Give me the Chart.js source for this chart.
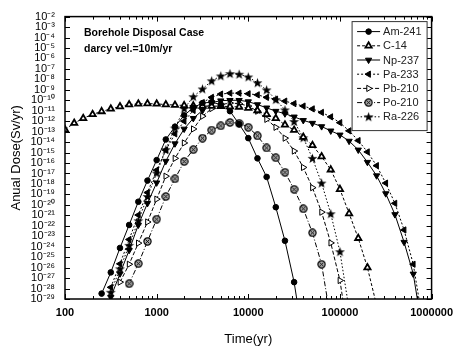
<!DOCTYPE html>
<html>
<head>
<meta charset="utf-8">
<script src="https://cdn.jsdelivr.net/npm/chart.js@4.4.0/dist/chart.umd.min.js"></script>
<style>
  html, body { margin: 0; padding: 0; background: #fff; }
  #wrap { width: 460px; height: 347px; }
</style>
</head>
<body>
<div id="wrap"><canvas id="c"></canvas></div>
<script>
// Tiempos (yr), 10 puntos por decada
const TIME = [100, 126, 158, 200, 251, 316, 398, 501, 631, 794,
  1000, 1259, 1585, 1995, 2512, 3162, 3981, 5012, 6310, 7943,
  10000, 12589, 15849, 19953, 25119, 31623, 39811, 50119, 63096, 79433,
  100000, 125893, 158489, 199526, 251189, 316228, 398107, 501187, 630957, 794328, 1000000];

// Dosis anual (Sv/yr), alineada con TIME
const AM_241 = [null, null, null, null, 3.3e-29, 3.5e-27, 7.6e-25, 1.2e-22, 2.0e-20, 2.1e-18,
  1.9e-16, 1.8e-14, 3.0e-13, 3.6e-12, 2.0e-11, 5.4e-11, 6.6e-11, 3.9e-11, 9.1e-12, 5.2e-13,
  2.4e-14, 2.8e-16, 4.7e-18, 6.0e-21, 3.7e-24, 4.1e-28, 1e-33];
const C_14 = [1.6e-13, 6.5e-13, 1.9e-12, 4.5e-12, 8.5e-12, 1.5e-11, 2.5e-11, 3.9e-11, 4.5e-11, 4.8e-11,
  4.5e-11, 3.9e-11, 3.5e-11, 3.2e-11, 3.0e-11, 2.8e-11, 2.8e-11, 2.7e-11, 2.5e-11, 2.3e-11,
  1.8e-11, 1.07e-11, 4.5e-12, 1.9e-12, 4.5e-13, 1.4e-13, 3.0e-14, 4.9e-15, 4.1e-16, 2.3e-17,
  3.1e-19, 1.5e-21, 6.5e-24, 1.0e-26, 2.5e-30];
const NP_237 = [null, null, null, null, null, 1.5e-29, 2.6e-27, 4.6e-25, 1.2e-22, 1.4e-20,
  1.3e-18, 1.5e-16, 7.1e-15, 1.8e-13, 1.9e-12, 1.07e-11, 6.0e-11, 9.1e-11, 1.0e-10, 1.0e-10,
  7.4e-11, 3.9e-11, 1.9e-11, 9.1e-12, 5.2e-12, 2.6e-12, 1.2e-12, 6.5e-13, 3.1e-13, 1.2e-13,
  4.9e-14, 1.26e-14, 1.8e-15, 1.2e-16, 6.2e-18, 1.2e-19, 1.2e-21, 2.7e-24, 2.5e-27, 1e-32];
const PA_233 = [null, null, null, null, null, 1.3e-28, 2.3e-26, 4.9e-24, 1.07e-21, 1.5e-19,
  2.1e-17, 1.7e-15, 6.2e-14, 1.0e-12, 1.07e-11, 6.0e-11, 1.9e-10, 3.9e-10, 4.8e-10, 4.8e-10,
  4.2e-10, 3.3e-10, 1.9e-10, 1.26e-10, 8.3e-11, 4.8e-11, 2.8e-11, 1.5e-11, 6.9e-12, 2.6e-12,
  7.2e-13, 1.2e-13, 1.4e-14, 1.15e-15, 5.6e-17, 1.2e-18, 1.4e-20, 4.0e-23, 2.1e-26, 1e-31];
const PB_210 = [null, null, null, null, null, null, 4.1e-28, 2.1e-26, 2.2e-24, 2.3e-22,
  3.5e-20, 5.5e-18, 2.8e-16, 8.3e-15, 1.8e-13, 3.0e-12, 1.6e-11, 3.9e-11, 5.4e-11, 4.8e-11,
  2.8e-11, 9.1e-12, 1.5e-12, 2.6e-13, 2.4e-14, 1.4e-15, 3.8e-17, 4.4e-19, 2.0e-21, 2.3e-24,
  5.9e-28, 1e-33];
const PO_210 = [null, null, null, null, null, null, null, 2.9e-28, 2.4e-26, 3.2e-24,
  4.3e-22, 6.3e-20, 3.1e-18, 1.4e-16, 1.9e-15, 2.4e-14, 1.4e-13, 3.6e-13, 7.6e-13, 6.2e-13,
  2.6e-13, 4.0e-14, 2.8e-15, 3.2e-16, 1.3e-17, 3.1e-19, 4.2e-21, 2.1e-23, 2.1e-26, 1e-31];
const RA_226 = [null, null, null, null, null, 4.4e-29, 7.8e-27, 1.35e-24, 3.0e-22, 6.3e-20,
  1.1e-17, 1.9e-15, 2.2e-13, 1.6e-11, 2.2e-10, 1.2e-9, 7.2e-9, 2.1e-8, 3.5e-8, 3.1e-8,
  1.7e-8, 4.7e-9, 9.8e-10, 1.15e-10, 1.2e-11, 9.3e-13, 2.6e-14, 2.8e-16, 1.2e-18, 1.4e-21,
  3.3e-25, 1e-30];

// Ticks
const X_TICKS = [100, 200, 300, 400, 500, 600, 700, 800, 900,
  1000, 2000, 3000, 4000, 5000, 6000, 7000, 8000, 9000,
  10000, 20000, 30000, 40000, 50000, 60000, 70000, 80000, 90000,
  100000, 200000, 300000, 400000, 500000, 600000, 700000, 800000, 900000, 1000000];
const Y_EXP = [-2, -3, -4, -5, -6, -7, -8, -9, -10, -11, -12, -13, -14, -15, -16,
  -17, -18, -19, -20, -21, -22, -23, -24, -25, -26, -27, -28, -29];

const FONT = '"Liberation Sans", Arial, sans-serif';
Chart.defaults.font.family = FONT;
Chart.defaults.color = "#000";

const SUP = { "-": "\u207B", "0": "\u2070", "1": "\u00B9", "2": "\u00B2", "3": "\u00B3", "4": "\u2074",
  "5": "\u2075", "6": "\u2076", "7": "\u2077", "8": "\u2078", "9": "\u2079" };
const pow10Label = (e) => "10" + String(e).split("").map((c) => SUP[c]).join("");
const isPow10 = (v) => Math.abs(Math.log10(v) - Math.round(Math.log10(v))) < 1e-9;

// marcadores que Chart.js no trae
function starMark() {
  const c = document.createElement("canvas");
  c.width = c.height = 11;
  const g = c.getContext("2d");
  g.fillStyle = "#000";
  g.beginPath();
  for (let i = 0; i < 10; i++) {
    const r = i % 2 ? 2.1 : 5.2;
    const a = -Math.PI / 2 + i * Math.PI / 5;
    g.lineTo(5.5 + r * Math.cos(a), 5.9 + r * Math.sin(a));
  }
  g.closePath();
  g.fill();
  return c;
}
function otimesMark() {
  const c = document.createElement("canvas");
  c.width = c.height = 9;
  const g = c.getContext("2d");
  g.fillStyle = "#aaa";
  g.strokeStyle = "#000";
  g.lineWidth = 1.2;
  g.beginPath();
  g.arc(4.5, 4.5, 3.6, 0, Math.PI * 2);
  g.fill();
  g.stroke();
  g.lineWidth = 0.9;
  g.beginPath();
  g.moveTo(2.6, 2.6); g.lineTo(6.4, 6.4);
  g.moveTo(6.4, 2.6); g.lineTo(2.6, 6.4);
  g.stroke();
  return c;
}

const SERIES = [
  { label: "Am-241", values: AM_241, style: "circle", rot: 0, r: 2.8, bg: "#000", bw: 1, dash: [] },
  { label: "C-14", values: C_14, style: "triangle", rot: 0, r: 3.6, bg: "#fff", bw: 1.8, dash: [3, 2] },
  { label: "Np-237", values: NP_237, style: "triangle", rot: 180, r: 3.6, bg: "#000", bw: 1, dash: [] },
  { label: "Pa-233", values: PA_233, style: "triangle", rot: 270, r: 3.6, bg: "#000", bw: 1, dash: [2, 2] },
  { label: "Pb-210", values: PB_210, style: "triangle", rot: 90, r: 3.6, bg: "#fff", bw: 1, dash: [4, 2] },
  { label: "Po-210", values: PO_210, style: otimesMark(), rot: 0, r: 3.6, bg: "#aaa", bw: 1, dash: [5, 2, 1, 2] },
  { label: "Ra-226", values: RA_226, style: starMark(), rot: 0, r: 4, bg: "#000", bw: 1, dash: [1.5, 2] },
];

const decor = {
  id: "decor",
  afterDatasetsDraw(chart) {
    const { ctx, chartArea: a, scales: { x, y } } = chart;
    ctx.save();
    // marco y ticks hacia dentro en los cuatro lados
    ctx.strokeStyle = "#000";
    ctx.lineWidth = 1.5;
    ctx.strokeRect(a.left, a.top, a.right - a.left, a.bottom - a.top);
    ctx.lineWidth = 1;
    ctx.beginPath();
    x.ticks.forEach((t) => {
      const px = Math.round(x.getPixelForValue(t.value)) + 0.5;
      const L = isPow10(t.value) ? 5 : 3;
      ctx.moveTo(px, a.bottom); ctx.lineTo(px, a.bottom - L);
      ctx.moveTo(px, a.top); ctx.lineTo(px, a.top + L);
    });
    y.ticks.forEach((t) => {
      const py = Math.round(y.getPixelForValue(t.value)) + 0.5;
      ctx.moveTo(a.left, py); ctx.lineTo(a.left + 5, py);
      ctx.moveTo(a.right, py); ctx.lineTo(a.right - 5, py);
    });
    ctx.stroke();

    // texto del caso
    ctx.fillStyle = "#000";
    ctx.font = "bold 10.5px " + FONT;
    ctx.textBaseline = "middle";
    ctx.fillText("Borehole Disposal Case", a.left + 19, a.top + 17);
    ctx.fillText("darcy vel.=10m/yr", a.left + 19, a.top + 33);

    // leyenda con recuadro
    const bx = a.right - 79.5, by = a.top + 5, bw = 75, bh = 109;
    ctx.fillStyle = "#fff";
    ctx.fillRect(bx, by, bw, bh);
    ctx.strokeStyle = "#333";
    ctx.lineWidth = 1;
    ctx.strokeRect(bx, by, bw, bh);
    ctx.font = "11px " + FONT;
    chart.data.datasets.forEach((ds, i) => {
      const s = SERIES[i];
      const ly = by + 10 + i * 14.2;
      ctx.strokeStyle = "#000";
      ctx.setLineDash(s.dash);
      ctx.beginPath();
      ctx.moveTo(bx + 5, ly); ctx.lineTo(bx + 28, ly);
      ctx.stroke();
      ctx.setLineDash([]);
      ctx.fillStyle = s.bg;
      ctx.lineWidth = s.bw;
      Chart.helpers.drawPoint(ctx, { pointStyle: s.style, rotation: s.rot, radius: s.r, borderWidth: s.bw }, bx + 16.5, ly);
      ctx.lineWidth = 1;
      ctx.fillStyle = "#222";
      ctx.fillText(s.label, bx + 31, ly + 0.5);
    });
    ctx.restore();
  },
};

new Chart(document.getElementById("c"), {
  type: "line",
  data: {
    datasets: SERIES.map((s) => ({
      label: s.label,
      data: s.values.map((v, i) => (v == null ? null : { x: TIME[i], y: v })).filter(Boolean),
      borderColor: "#000",
      borderWidth: 1,
      borderDash: s.dash,
      tension: 0,
      fill: false,
      pointStyle: s.style,
      pointRotation: s.rot,
      pointRadius: s.r,
      pointBackgroundColor: s.bg,
      pointBorderColor: "#000",
      pointBorderWidth: s.bw,
    })),
  },
  options: {
    responsive: true,
    maintainAspectRatio: false,
    animation: false,
    devicePixelRatio: 1,
    layout: { padding: { top: 10, right: 28, left: 0, bottom: 0 } },
    plugins: { legend: { display: false }, tooltip: { enabled: false } },
    scales: {
      x: {
        type: "logarithmic",
        min: 100,
        max: 1000000,
        afterBuildTicks: (s) => { s.ticks = X_TICKS.map((v) => ({ value: v })); },
        afterFit: (s) => { s.height = 48; },
        grid: { display: false, drawTicks: false },
        border: { display: false },
        ticks: {
          autoSkip: false, maxRotation: 0, minRotation: 0, padding: 7,
          font: { size: 11, weight: "bold" },
          callback: (v) => (isPow10(v) ? String(v) : ""),
        },
        title: { display: true, text: "Time(yr)", font: { size: 13 }, padding: { top: 0, bottom: 0 } },
      },
      y: {
        type: "logarithmic",
        min: 1e-29,
        max: 1e-2,
        afterBuildTicks: (s) => { s.ticks = Y_EXP.map((e) => ({ value: Number("1e" + e) })); },
        afterFit: (s) => { s.width = 65; },
        grid: { display: false, drawTicks: false },
        border: { display: false },
        ticks: {
          autoSkip: false, padding: 10,
          font: { size: 11 },
          callback: (v) => pow10Label(Math.round(Math.log10(v))),
        },
        title: { display: true, text: "Anual Dose(Sv/yr)", font: { size: 13 }, padding: { top: 9, bottom: 0 } },
      },
    },
  },
  plugins: [decor],
});
</script>
</body>
</html>
